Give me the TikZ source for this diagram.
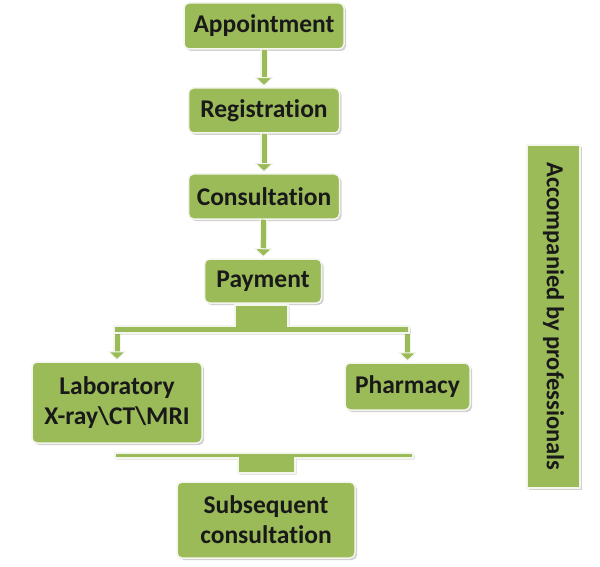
\documentclass[tikz,border=0pt]{standalone}
\usepackage{fontspec}
\setmainfont{Carlito}[Ligatures=NoCommon]
\usetikzlibrary{arrows.meta,shadows}
\definecolor{boxgreen}{HTML}{9BBB59}
\definecolor{edge}{HTML}{F4F6EE}
\begin{document}
\begin{tikzpicture}[x=1pt,y=-1pt,
  box/.style={draw=edge, line width=1.5pt, fill=boxgreen, rounded corners=5pt,
    drop shadow={shadow xshift=2pt, shadow yshift=-2pt, opacity=0.3, fill=black!60},
    font=\fontsize{25.5}{30}\selectfont\bfseries, text=black!90, align=center, inner sep=0pt},
  sidebox/.style={draw=edge, line width=1.5pt, fill=boxgreen,
    drop shadow={shadow xshift=2pt, shadow yshift=-2pt, opacity=0.3, fill=black!60},
    font=\fontsize{24.5}{28}\selectfont\bfseries, text=black!90, inner sep=0pt},
  arr/.style={draw=boxgreen, line width=5pt, shorten >=1pt,
    -{Triangle[width=19pt,length=9pt,color=edge,fill=boxgreen,line width=1pt]},
    preaction={draw=edge, line width=7.5pt, -, shorten >=9pt}},
  bracket/.style={fill=boxgreen, draw=edge, line width=1.2pt,
    drop shadow={shadow xshift=1.5pt, shadow yshift=-1.5pt, opacity=0.25, fill=black!60}}]
\useasboundingbox (0,0) rectangle (600,567);
\node[box, minimum width=160pt, minimum height=46pt] (app) at (264,26) {Appointment};
\node[box, minimum width=151pt, minimum height=45pt] (reg) at (264,110.5) {Registration};
\node[box, minimum width=151pt, minimum height=45pt] (con) at (264,196.5) {Consultation};
\node[box, minimum width=117pt, minimum height=44pt] (pay) at (263,281) {Payment};
\node[box, minimum width=170pt, minimum height=81pt] (lab) at (117,402.5) {Laboratory\\X-ray\textbackslash CT\textbackslash MRI};
\node[box, minimum width=125pt, minimum height=47pt] (pha) at (407.5,386.5) {Pharmacy};
\node[box, minimum width=178pt, minimum height=76pt] (sub) at (266,520) {Subsequent\\consultation};
\node[sidebox, rotate=-90, minimum width=343pt, minimum height=53pt] (side) at (553.5,316.5) {Accompanied by professionals};
\draw[arr] (app) -- (reg);
\draw[arr] (reg) -- (con);
\draw[arr] (con) -- (pay);
\coordinate (bl) at (117,330);
\coordinate (br) at (407.5,330);
\draw[arr] (bl) -- (lab);
\draw[arr] (br) -- (pha);
\path[bracket] (235,305) -- (288,305) -- (288,326) -- (409,326) -- (409,333)
  -- (114,333) -- (114,326) -- (235,326) -- cycle;
\path[bracket] (115,453) -- (413,453) -- (413,458) -- (295,458) -- (295,473)
  -- (238,473) -- (238,458) -- (115,458) -- cycle;
\end{tikzpicture}
\end{document}
